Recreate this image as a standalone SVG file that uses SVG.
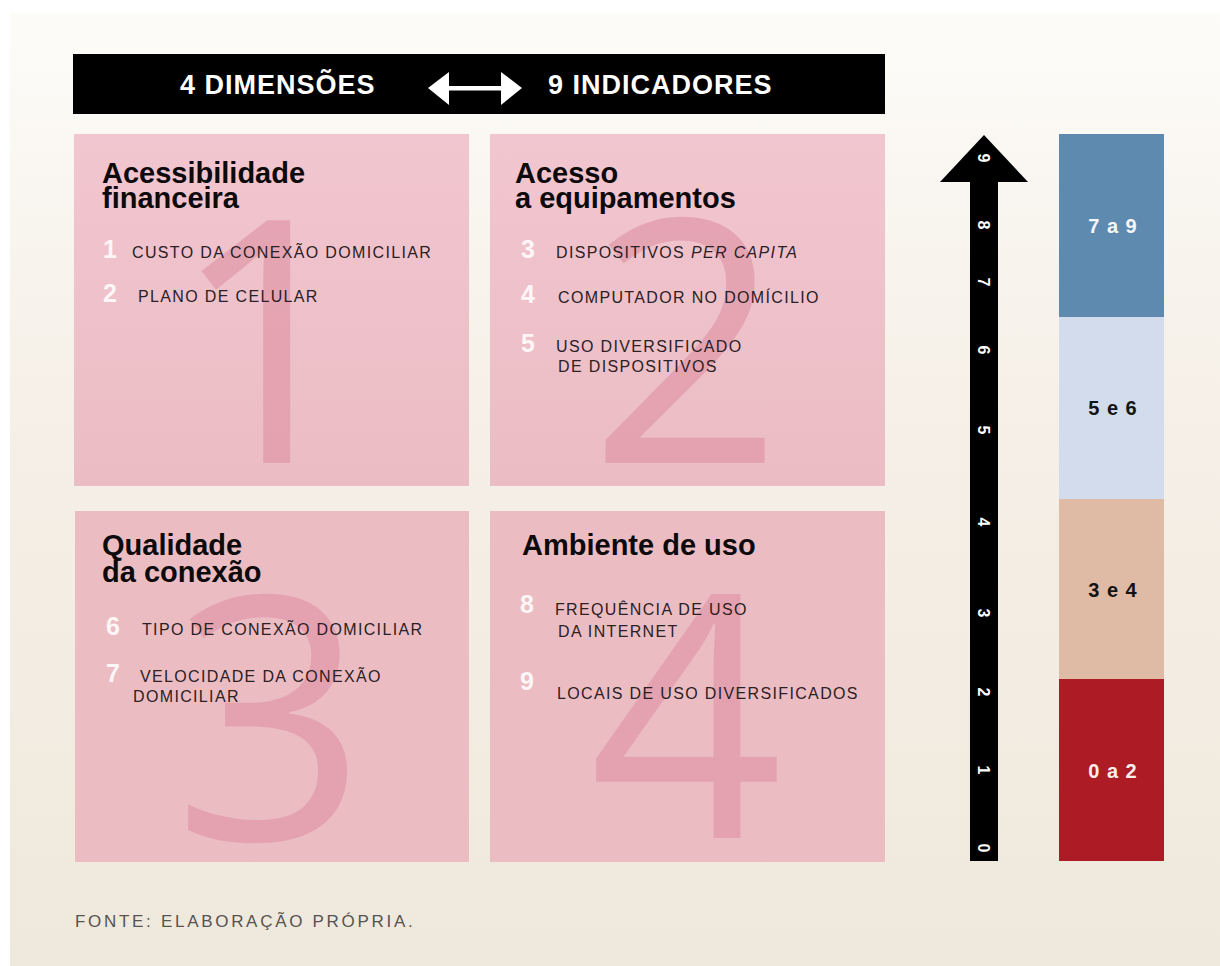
<svg xmlns="http://www.w3.org/2000/svg" width="1220" height="966" viewBox="0 0 1220 966">
<defs>
<linearGradient id="bg" x1="0" y1="0" x2="0" y2="1">
<stop offset="0" stop-color="#fdfcf9"/>
<stop offset="0.35" stop-color="#f6f1e9"/>
<stop offset="1" stop-color="#efe8dc"/>
</linearGradient>
<linearGradient id="boxTop" x1="0" y1="0" x2="0" y2="1">
<stop offset="0" stop-color="#f2c6d0"/>
<stop offset="1" stop-color="#ebbcc3"/>
</linearGradient>
<style>
.box{fill:#ebbdc3}
.big{font-family:"Open Sans","Liberation Sans",sans-serif;font-size:340px;font-weight:400;fill:#e299aa;fill-opacity:0.75;text-anchor:middle}
.title{font-family:"Liberation Sans",Arial,sans-serif;font-size:29px;font-weight:700;fill:#0d0a0b}
.num{font-family:"Liberation Sans",Arial,sans-serif;font-size:25px;font-weight:700;fill:#fdf6f7}
.item{font-family:"Liberation Sans",Arial,sans-serif;font-size:16px;fill:#2b2024;letter-spacing:1.35px}
.head{font-family:"Liberation Sans",Arial,sans-serif;font-size:27px;font-weight:700;fill:#ffffff;letter-spacing:1px}
.ax{font-family:"Liberation Sans",Arial,sans-serif;font-size:16px;font-weight:700;fill:#ffffff;text-anchor:middle}
.lvl{font-family:"Liberation Sans",Arial,sans-serif;font-size:20px;font-weight:700;text-anchor:middle;letter-spacing:1px}
.foot{font-family:"Liberation Sans",Arial,sans-serif;font-size:17px;fill:#575350;letter-spacing:2.7px}
</style>
</defs>
<rect x="0" y="0" width="1220" height="966" fill="#ffffff"/>
<rect x="10" y="13" width="1210" height="953" fill="url(#bg)"/>

<g id="header">
<rect x="73" y="54" width="812" height="60" fill="#000000"/>
<text class="head" x="180" y="94">4 DIMENSÕES</text>
<text class="head" x="548" y="94">9 INDICADORES</text>
</g>

<g id="connectors">
<g id="double-arrow" fill="#ffffff">
<rect x="445" y="86" width="58" height="4.5"/>
<polygon points="428,88 449,72 449,105"/>
<polygon points="522,88 501,72 501,105"/>
</g>
<g id="scale-arrow">
<rect x="970" y="180" width="28" height="681" fill="#000000"/>
<polygon points="984,135 940,182 1028,182" fill="#000000"/>
</g>
</g>

<g id="dim1">
<rect x="74" y="134" width="395" height="352" fill="url(#boxTop)"/>
<text class="big" x="268" y="463">1</text>
<text class="title" x="102" y="183">Acessibilidade</text>
<text class="title" x="102" y="208">financeira</text>
<text class="num" x="103" y="258">1</text>
<text class="item" x="132" y="258">CUSTO DA CONEXÃO DOMICILIAR</text>
<text class="num" x="103" y="302">2</text>
<text class="item" x="138" y="302">PLANO DE CELULAR</text>
</g>

<g id="dim2">
<rect x="490" y="134" width="395" height="352" fill="url(#boxTop)"/>
<text class="big" x="686" y="463">2</text>
<text class="title" x="515" y="183">Acesso</text>
<text class="title" x="515" y="208">a equipamentos</text>
<text class="num" x="521" y="258">3</text>
<text class="item" x="556" y="258">DISPOSITIVOS <tspan font-style="italic">PER CAPITA</tspan></text>
<text class="num" x="521" y="303">4</text>
<text class="item" x="558" y="303">COMPUTADOR NO DOMÍCILIO</text>
<text class="num" x="521" y="352">5</text>
<text class="item" x="556" y="352">USO DIVERSIFICADO</text>
<text class="item" x="558" y="372">DE DISPOSITIVOS</text>
</g>

<g id="dim3">
<rect x="75" y="511" width="394" height="351" class="box"/>
<text class="big" x="270" y="840">3</text>
<text class="title" x="102" y="555">Qualidade</text>
<text class="title" x="102" y="582">da conexão</text>
<text class="num" x="106" y="635">6</text>
<text class="item" x="142" y="635">TIPO DE CONEXÃO DOMICILIAR</text>
<text class="num" x="106" y="682">7</text>
<text class="item" x="140" y="682">VELOCIDADE DA CONEXÃO</text>
<text class="item" x="133" y="702">DOMICILIAR</text>
</g>

<g id="dim4">
<rect x="490" y="511" width="395" height="351" class="box"/>
<text class="big" x="686" y="838">4</text>
<text class="title" x="522" y="555">Ambiente de uso</text>
<text class="num" x="520" y="613">8</text>
<text class="item" x="555" y="615">FREQUÊNCIA DE USO</text>
<text class="item" x="558" y="637">DA INTERNET</text>
<text class="num" x="520" y="690">9</text>
<text class="item" x="557" y="699">LOCAIS DE USO DIVERSIFICADOS</text>
</g>

<g id="scale-labels">
<text class="ax" transform="translate(978,848) rotate(90)">0</text>
<text class="ax" transform="translate(978,770) rotate(90)">1</text>
<text class="ax" transform="translate(978,692) rotate(90)">2</text>
<text class="ax" transform="translate(978,613) rotate(90)">3</text>
<text class="ax" transform="translate(978,522) rotate(90)">4</text>
<text class="ax" transform="translate(978,430) rotate(90)">5</text>
<text class="ax" transform="translate(978,350) rotate(90)">6</text>
<text class="ax" transform="translate(978,282) rotate(90)">7</text>
<text class="ax" transform="translate(978,225) rotate(90)">8</text>
<text class="ax" transform="translate(978,158) rotate(90)">9</text>
</g>

<g id="level-7a9">
<rect x="1059" y="134" width="105" height="183" fill="#5f8ab0"/>
<text class="lvl" x="1113" y="233" fill="#f4f6fa">7 a 9</text>
</g>
<g id="level-5e6">
<rect x="1059" y="317" width="105" height="182" fill="#d2dcec"/>
<text class="lvl" x="1113" y="415" fill="#141414">5 e 6</text>
</g>
<g id="level-3e4">
<rect x="1059" y="499" width="105" height="180" fill="#dfbaa4"/>
<text class="lvl" x="1113" y="597" fill="#141414">3 e 4</text>
</g>
<g id="level-0a2">
<rect x="1059" y="679" width="105" height="182" fill="#ad1c24"/>
<text class="lvl" x="1113" y="778" fill="#f7eeee">0 a 2</text>
</g>

<g id="footer">
<text class="foot" x="75" y="927">FONTE: ELABORAÇÃO PRÓPRIA.</text>
</g>
</svg>
